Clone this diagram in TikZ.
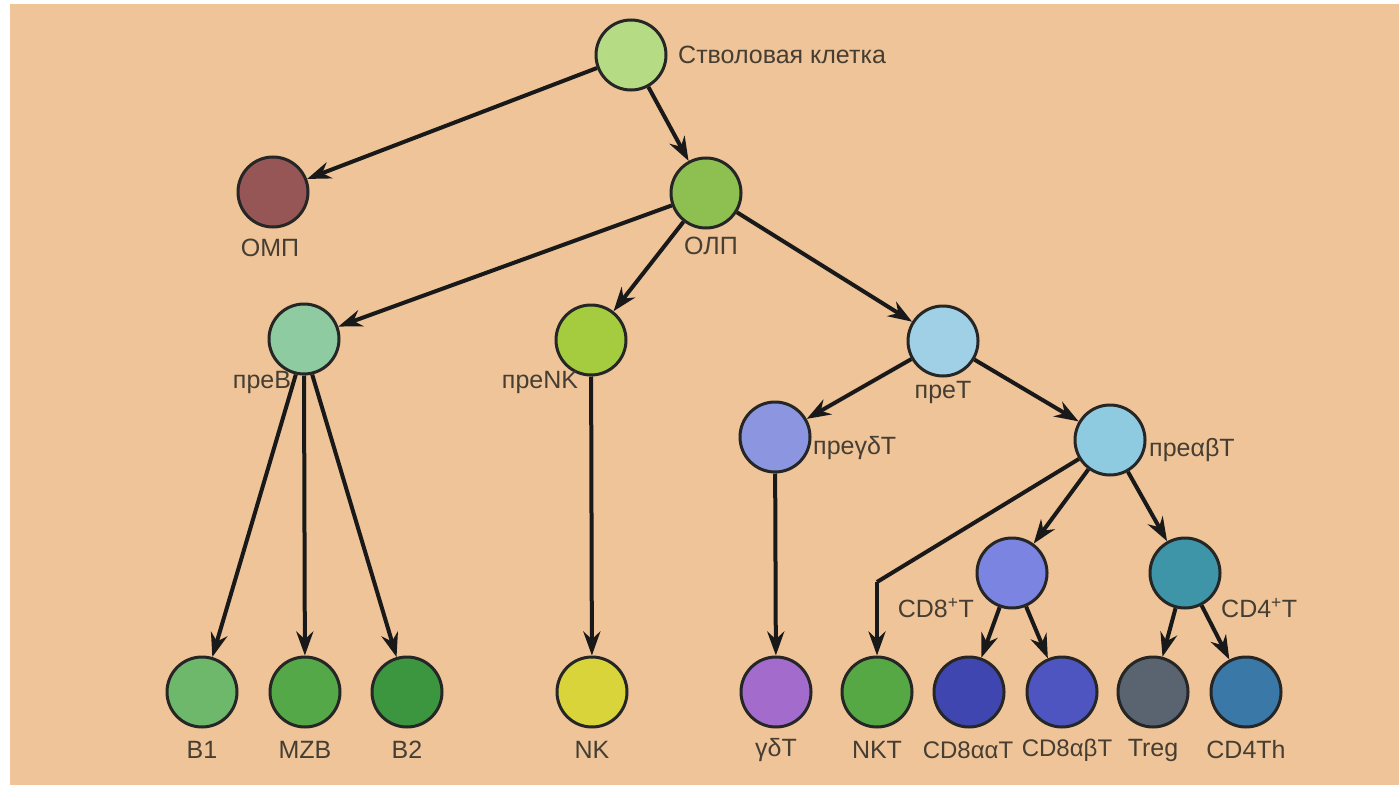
\documentclass[tikz,border=0pt]{standalone}
\usepackage{fontspec}
\setmainfont{Liberation Sans}
\usetikzlibrary{arrows.meta}
\definecolor{bg}{RGB}{238,196,152}
\definecolor{txt}{RGB}{70,62,50}
\definecolor{cstem}{RGB}{181,219,132}
\definecolor{comp}{RGB}{150,86,86}
\definecolor{colp}{RGB}{141,192,80}
\definecolor{cpreb}{RGB}{143,203,160}
\definecolor{cprenk}{RGB}{165,204,63}
\definecolor{cpret}{RGB}{159,208,230}
\definecolor{cpregd}{RGB}{140,150,224}
\definecolor{cpreab}{RGB}{143,203,224}
\definecolor{ccdeight}{RGB}{123,132,224}
\definecolor{ccdfour}{RGB}{62,149,168}
\definecolor{cbone}{RGB}{109,184,106}
\definecolor{cmzb}{RGB}{85,168,72}
\definecolor{cbtwo}{RGB}{60,150,64}
\definecolor{cnk}{RGB}{216,212,58}
\definecolor{cgd}{RGB}{163,108,204}
\definecolor{cnkt}{RGB}{85,168,68}
\definecolor{caa}{RGB}{64,70,176}
\definecolor{cab}{RGB}{78,84,192}
\definecolor{ctreg}{RGB}{90,100,112}
\definecolor{cth}{RGB}{58,120,168}
\begin{document}
\begin{tikzpicture}[x=1pt,y=-1pt,
  cell/.style={circle,draw=black!85,line width=3pt,minimum size=70pt,inner sep=0pt},
  lab/.style={text=txt,font=\fontsize{25}{28}\selectfont,inner sep=0pt},
  arr/.style={line width=4pt,black!90,-{Stealth[length=24pt,width=17pt]}},
  ln/.style={line width=4pt,black!90}]
\fill[white] (0,0) rectangle (1399,789);
\fill[bg] (10,4) rectangle (1399,785);
\useasboundingbox (0,0) rectangle (1399,789);
% nodes
\node[cell,fill=cstem] (stem) at (631,55) {};
\node[cell,fill=comp] (omp) at (273,192) {};
\node[cell,fill=colp] (olp) at (706,193) {};
\node[cell,fill=cpreb] (preb) at (304,339) {};
\node[cell,fill=cprenk] (prenk) at (591,340) {};
\node[cell,fill=cpret] (pret) at (943,341) {};
\node[cell,fill=cpregd] (pregd) at (775,437) {};
\node[cell,fill=cpreab] (preab) at (1110,440) {};
\node[cell,fill=ccdeight] (cdeight) at (1012,573) {};
\node[cell,fill=ccdfour] (cdfour) at (1185,573) {};
\node[cell,fill=cbone] (bone) at (202,692) {};
\node[cell,fill=cmzb] (mzb) at (305,692) {};
\node[cell,fill=cbtwo] (btwo) at (407,692) {};
\node[cell,fill=cnk] (nk) at (592,692) {};
\node[cell,fill=cgd] (gd) at (776,692) {};
\node[cell,fill=cnkt] (nkt) at (877,692) {};
\node[cell,fill=caa] (aa) at (969,692) {};
\node[cell,fill=cab] (ab) at (1062,692) {};
\node[cell,fill=ctreg] (treg) at (1153,692) {};
\node[cell,fill=cth] (th) at (1246,692) {};
% labels
\node[lab,anchor=west] (lstem) at (678,55) {Стволовая клетка};
\node[lab] (lomp) at (270,248) {ОМП};
\node[lab] (lolp) at (711,246) {ОЛП};
\node[lab] (lpreb) at (262,382) {преB};
\node[lab] (lprenk) at (540,382) {преNK};
\node[lab] (lpret) at (943,392) {преT};
\node[lab,anchor=west] (lpregd) at (813,448) {преγδT};
\node[lab,anchor=west] (lpreab) at (1149,450) {преαβT};
\node[lab,anchor=east] (lcdeight) at (974,608) {CD8\textsuperscript{+}T};
\node[lab,anchor=west] (lcdfour) at (1221,608) {CD4\textsuperscript{+}T};
\node[lab] (lbone) at (202,750) {B1};
\node[lab] (lmzb) at (305,750) {MZB};
\node[lab] (lbtwo) at (407,750) {B2};
\node[lab] (lnk) at (592,750) {NK};
\node[lab] (lgd) at (776,750) {γδT};
\node[lab] (lnkt) at (877,750) {NKT};
\node[lab,font=\fontsize{24}{28}\selectfont] (laa) at (968,750) {CD8ααT};
\node[lab,font=\fontsize{24}{28}\selectfont] (lab) at (1067,750) {CD8αβT};
\node[lab] (ltreg) at (1153,750) {Treg};
\node[lab] (lth) at (1246,750) {CD4Th};
\coordinate (nktc) at (877,582);
% connectors
\draw[arr] (stem) -- (omp);
\draw[arr] (stem) -- (olp);
\draw[arr] (olp) -- (preb);
\draw[arr] (olp) -- (prenk);
\draw[arr] (olp) -- (pret);
\draw[arr] (preb.257) -- (bone);
\draw[arr] (preb.270) -- (mzb);
\draw[arr] (preb.283) -- (btwo);
\draw[arr] (prenk) -- (nk);
\draw[arr] (pret) -- (pregd);
\draw[arr] (pret) -- (preab);
\draw[arr] (pregd) -- (gd);
\draw[ln] (preab) -- (nktc);
\draw[arr] (nktc) -- (nkt);
\draw[arr] (preab) -- (cdeight);
\draw[arr] (preab) -- (cdfour);
\draw[arr] (cdeight) -- (aa);
\draw[arr] (cdeight) -- (ab);
\draw[arr] (cdfour) -- (treg);
\draw[arr] (cdfour) -- (th);
\end{tikzpicture}
\end{document}
